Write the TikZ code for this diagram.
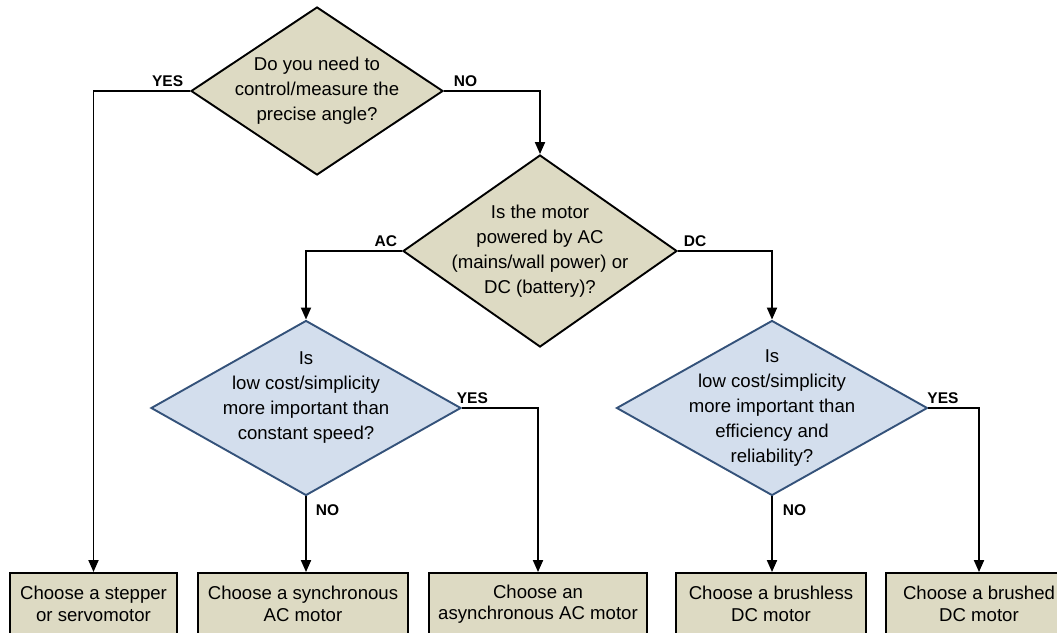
\documentclass[tikz,border=0pt]{standalone}
\usepackage{fontspec}
\setmainfont{Liberation Sans}
\usetikzlibrary{shapes.geometric, arrows.meta}
\definecolor{tanfill}{RGB}{221,218,195}
\definecolor{bluefill}{RGB}{211,222,237}
\definecolor{blueline}{RGB}{52,82,122}
\tikzset{
    ask/.style={diamond, draw, line width=1.9pt, fill=tanfill, inner sep=0pt},
    askblue/.style={ask, draw=blueline, fill=bluefill},
    pick/.style={draw, line width=1.9pt, fill=tanfill, minimum height=62pt, inner sep=0pt, align=center, font=\fontsize{18.6}{21.5}\selectfont},
    txt/.style={align=center, font=\fontsize{18.6}{25}\selectfont},
    flow/.style={line width=1.9pt, -{Triangle[width=10pt,length=12pt]}},
    tag/.style={font=\bfseries\fontsize{15.5}{15.5}\selectfont, inner sep=1pt}
}

\begin{document}
\begin{tikzpicture}[x=1pt, y=-1pt]
    \useasboundingbox (0,0) rectangle (1057,632);
    %
    \node[ask, minimum width=252pt, minimum height=168pt] (q1) at (317,91) {};
    \node[txt] (q1t) at (q1) {Do you need to\\control/measure the\\precise angle?};
    %
    \node[ask, minimum width=274pt, minimum height=192pt] (q2) at (540,251) {};
    \node[txt] (q2t) at (q2) {Is the motor\\powered by AC\\(mains/wall power) or\\DC (battery)?};
    %
    \node[askblue, minimum width=310pt, minimum height=175pt] (q3) at (306,408) {};
    \node[txt] (q3t) at (306,398) {Is\\low cost/simplicity\\more important than\\constant speed?};
    %
    \node[askblue, minimum width=311pt, minimum height=175pt] (q4) at (772,408) {};
    \node[txt] (q4t) at (q4) {Is\\low cost/simplicity\\more important than\\efficiency and\\reliability?};
    %
    \node[pick, minimum width=167pt] (b1) at (93.5,604) {Choose a stepper\\or servomotor};
    \node[pick, minimum width=210pt] (b2) at (303,604) {Choose a synchronous\\AC motor};
    \node[pick, minimum width=218pt] (b3) at (538,604) {Choose an\\asynchronous AC motor};
    \node[pick, minimum width=190pt] (b4) at (771,604) {Choose a brushless\\DC motor};
    \node[pick, minimum width=186pt] (b5) at (979,604) {Choose a brushed\\DC motor};
    %
    \draw[flow] (q1.west) node[tag, anchor=south east, xshift=-5pt, yshift=2pt] (yes1) {YES} -| (b1.north);
    \draw[flow] (q1.east) node[tag, anchor=south west, xshift=8pt, yshift=2pt] (no1) {NO} -| (q2.north);
    %
    \draw[flow] (q2.west) node[tag, anchor=south east, xshift=-3pt, yshift=2pt] (ac) {AC} -| (q3.north);
    \draw[flow] (q2.east) node[tag, anchor=south west, xshift=4pt, yshift=2pt] (dc) {DC} -| (q4.north);
    %
    \draw[flow] (q3.east) node[tag, anchor=south west, xshift=-7pt, yshift=2pt] (yes3) {YES} -| (b3.north);
    \draw[flow] (q3.south) node[tag, anchor=north west, xshift=8pt, yshift=-6pt] (no3) {NO} -- (q3.south |- b2.north);
    %
    \draw[flow] (q4.east) node[tag, anchor=south west, xshift=-3pt, yshift=2pt] (yes4) {YES} -| (b5.north);
    \draw[flow] (q4.south) node[tag, anchor=north west, xshift=9pt, yshift=-6pt] (no4) {NO} -- (q4.south |- b4.north);
\end{tikzpicture}
\end{document}
